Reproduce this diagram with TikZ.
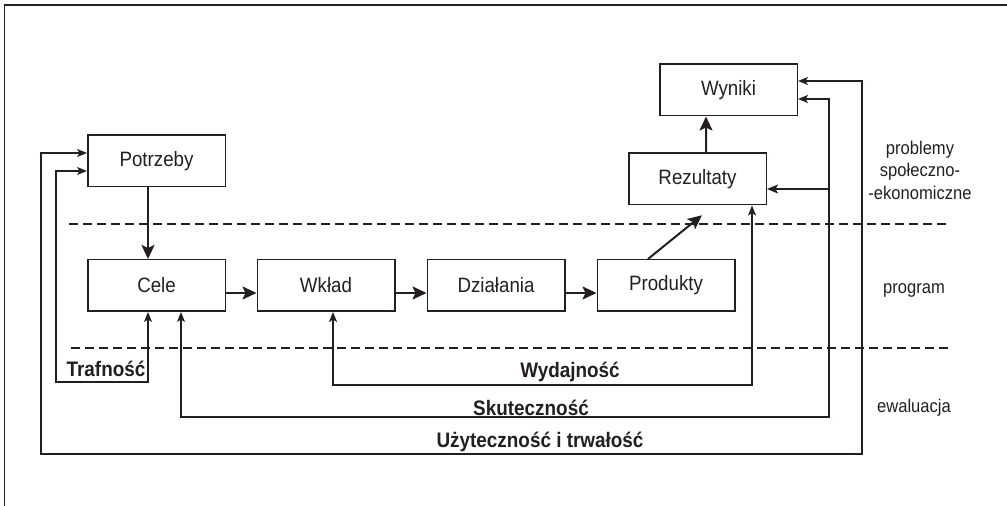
\documentclass[tikz,border=0pt]{standalone}
\usepackage{fontspec}
\setmainfont{Liberation Sans}[FakeStretch=0.9]
\usetikzlibrary{arrows.meta,calc}
\definecolor{ink}{HTML}{231F20}
\begin{document}
\begin{tikzpicture}[x=1bp,y=-1bp,
  box/.style={draw=ink,line width=1.5bp,minimum width=137.5bp,minimum height=51.5bp,
    inner sep=0pt,font=\fontsize{20.8bp}{24bp}\selectfont,text=ink},
  flow/.style={draw=ink,line width=2bp,-{Stealth[length=14bp,width=13bp,inset=3bp]}},
  fb/.style={draw=ink,line width=1.4bp,
    {Stealth[length=10bp,width=8bp,inset=2.5bp]}-{Stealth[length=10bp,width=8bp,inset=2.5bp]}},
  fbone/.style={draw=ink,line width=1.8bp,-{Stealth[length=11bp,width=9bp,inset=2.5bp]}},
  lab/.style={inner sep=0pt,text=ink,font=\bfseries\fontsize{21bp}{24bp}\selectfont},
  side/.style={inner sep=0pt,text=ink,align=center,font=\fontsize{18.4bp}{22.5bp}\selectfont},
  sep/.style={draw=ink,line width=1.3bp,dash pattern=on 9bp off 5bp}
]
\useasboundingbox (0,0) rectangle (1007,506);

% partial frame
\draw[ink,line width=1.5bp] (4.5,506) -- (4.5,5) -- (1007,5);

% level separators
\draw[sep] (69,224) -- (948,224);
\draw[sep] (71,348) -- (951,348);

% boxes
\node[box] (pot) at (156.5,161) {Potrzeby};
\node[box] (cele) at (156.5,285.5) {Cele};
\node[box] (wk) at (326,285.5) {Wkład};
\node[box] (dz) at (496,285.5) {Działania};
\node[box] (pr) at (666,285.5) {Produkty};
\node[box] (rez) at (697.5,179) {Rezultaty};
\node[box] (wyn) at (728.5,90) {Wyniki};

% main flow
\draw[flow] ($(pot.south)+(-8.5,0)$) -- ($(cele.north)+(-8.5,0)$);
\draw[flow] ($(cele.east)+(0,7.5)$) -- ($(wk.west)+(0,7.5)$);
\draw[flow] ($(wk.east)+(0,7.5)$) -- ($(dz.west)+(0,7.5)$);
\draw[flow] ($(dz.east)+(0,7.5)$) -- ($(pr.west)+(0,7.5)$);
\draw[flow,shorten >=15.6bp] ($(pr.north)+(-18,0)$) -- ($(rez.south)+(16.5,0)$);
\draw[flow] ($(rez.north)+(8.5,0)$) -- ($(wyn.south)+(-22.5,0)$);

% evaluation loops
\draw[fb] ($(cele.south)+(-8.5,0)$) |- (56,382) |- ($(pot.west)+(0,10)$);
\draw[fb] ($(pot.west)+(0,-8)$) -| (41,454) -- (862,454) |- ($(wyn.east)+(0,-9)$);
\draw[fb] ($(cele.south)+(24.5,0)$) |- (829,417) |- ($(wyn.east)+(0,9)$);
\draw[fbone] (829,189) -- ($(rez.east)+(0,10)$);
\draw[fb,line width=1.8bp] ($(wk.south)+(7,0)$) |- (752,385) -- ($(rez.south)+(54.5,0)$);

% loop labels
\node[lab] (traf) at (106,369) {Trafność};
\node[lab] (wyd) at (570,372) {Wydajność};
\node[lab] (sku) at (531,408) {Skuteczność};
\node[lab] (uzy) at (540,442) {Użyteczność i trwałość};

% level labels
\node[side] (prob) at (920,170) {problemy\\społeczno-\\-ekonomiczne};
\node[side] (prog) at (914,290) {program};
\node[side] (ewal) at (914,408) {ewaluacja};
\end{tikzpicture}
\end{document}
